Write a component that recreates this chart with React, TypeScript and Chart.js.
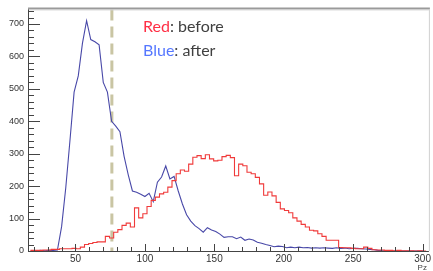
import React, { useEffect, useRef } from 'react';
import { Chart, registerables } from 'chart.js';

Chart.register(...registerables);

// Histogram binning (bin lower edge of first bin, width)
const binStart = 17.5;
const binWidth = 3;

// Red: before (step histogram)
const redCounts = [
  2, 2, 2, 3, 3, 5, 5, 7, 7, 7,
  8, 7, 12, 20, 23, 26, 28, 28, 45, 40,
  58, 66, 79, 86, 74, 133, 102, 115, 137, 156,
  166, 176, 181, 197, 217, 238, 250, 246, 268, 289,
  294, 285, 297, 284, 278, 280, 291, 295, 288, 232,
  268, 263, 243, 238, 227, 207, 172, 182, 170, 150,
  130, 125, 118, 102, 92, 82, 74, 64, 62, 53,
  45, 33, 33, 33, 11, 10, 10, 8, 7, 7,
  12, 8, 4, 3, 3, 2, 2, 1, 2, 1,
  1, 1, 0, 1, 0,
];

// Blue: after (polyline through bin centres)
const blueCounts = [
  1, 1, 2, 1, 2, 2, 3, 75, 195, 340,
  490, 540, 640, 710, 652, 645, 636, 520, 490, 400,
  385, 368, 292, 235, 185, 181, 175, 168, 178, 152,
  212, 228, 262, 222, 230, 185, 145, 112, 92, 78,
  69, 58, 72, 65, 60, 52, 42, 44, 44, 38,
  43, 33, 37, 34, 27, 24, 20, 17, 13, 15,
  14, 10, 12, 10, 12, 10, 11, 9, 10, 9,
  10, 9, 8, 10, 8, 9, 7, 8, 8, 7,
  6, 5, 4, 2, 1, 1, 0, 0, 0, 0,
  0, 0, 0, 0, 0,
];

const xMajorTicks = [50, 100, 150, 200, 250, 300];
const yMajorTicks = [0, 100, 200, 300, 400, 500, 600, 700];
const xMinorStep = 10;
const yMinorStep = 20;
const xMin = 15.8;
const xMax = 304.5;
const yMin = 0;
const yMax = 745;
const cutValue = 76.2;
const axisTitle = 'Pz';
const legendKeys = ['Red', 'Blue'];
const legendRest = [': before', ': after'];
const legendKeyColors = ['#ff2f45', '#5577ff'];

export default function App() {
  const ref = useRef<HTMLCanvasElement | null>(null);

  useEffect(() => {
    if (!ref.current) return;
    const redData = redCounts.map((v, i) => ({ x: binStart + i * binWidth, y: v }));
    redData.push({ x: binStart + redCounts.length * binWidth, y: redCounts[redCounts.length - 1] });
    const blueData = blueCounts.map((v, i) => ({ x: binStart + (i + 0.5) * binWidth, y: v }));

    const decor = {
      id: 'decor',
      beforeDatasetsDraw(chart: any) {
        const { ctx, chartArea, scales } = chart;
        const x = scales.x.getPixelForValue(cutValue);
        ctx.save();
        ctx.strokeStyle = '#c9c5a3';
        ctx.lineWidth = 3;
        ctx.setLineDash([11, 6]);
        ctx.beginPath();
        ctx.moveTo(x, chartArea.top);
        ctx.lineTo(x, chartArea.bottom);
        ctx.stroke();
        ctx.restore();
      },
      afterDraw(chart: any) {
        const { ctx, chartArea, scales } = chart;
        const xs = scales.x;
        const ys = scales.y;
        ctx.save();
        // frame
        ctx.strokeStyle = '#9a9a9a';
        ctx.lineWidth = 2;
        ctx.beginPath();
        ctx.moveTo(chartArea.left, chartArea.top - 1);
        ctx.lineTo(chartArea.right + 1, chartArea.top - 1);
        ctx.stroke();
        ctx.strokeStyle = '#d0d0d0';
        ctx.lineWidth = 1;
        ctx.beginPath();
        ctx.moveTo(chartArea.left, chartArea.top + 0.5);
        ctx.lineTo(chartArea.right, chartArea.top + 0.5);
        ctx.moveTo(chartArea.right + 0.5, chartArea.top);
        ctx.lineTo(chartArea.right + 0.5, chartArea.bottom);
        ctx.stroke();

        // axis lines
        ctx.strokeStyle = '#444';
        ctx.lineWidth = 1;
        ctx.beginPath();
        ctx.moveTo(chartArea.left + 0.5, chartArea.top);
        ctx.lineTo(chartArea.left + 0.5, chartArea.bottom);
        ctx.moveTo(chartArea.left, chartArea.bottom + 0.5);
        ctx.lineTo(chartArea.right, chartArea.bottom + 0.5);
        ctx.stroke();

        // y ticks (inside)
        ctx.beginPath();
        for (let v = 0; v <= yMax; v += yMinorStep) {
          const py = Math.round(ys.getPixelForValue(v)) + 0.5;
          const len = v % 100 === 0 ? 12 : 6;
          ctx.moveTo(chartArea.left, py);
          ctx.lineTo(chartArea.left + len, py);
        }
        // x ticks (inside)
        for (let v = Math.ceil(xMin / xMinorStep) * xMinorStep; v <= xMax; v += xMinorStep) {
          const px = Math.round(xs.getPixelForValue(v)) + 0.5;
          const len = v % 50 === 0 ? 7 : 4;
          ctx.moveTo(px, chartArea.bottom);
          ctx.lineTo(px, chartArea.bottom - len);
        }
        ctx.stroke();

        // axis title
        ctx.fillStyle = '#444';
        ctx.font = '8px "Liberation Sans", Arial, sans-serif';
        ctx.textAlign = 'right';
        ctx.textBaseline = 'alphabetic';
        ctx.fillText(axisTitle, chartArea.right - 2, 270);

        // legend text
        ctx.font = '16px Lato, sans-serif';
        ctx.textAlign = 'left';
        const lx = 143;
        const baselines = [32, 56];
        legendKeys.forEach((k, i) => {
          ctx.fillStyle = legendKeyColors[i];
          ctx.fillText(k, lx, baselines[i]);
          const w = ctx.measureText(k).width;
          ctx.fillStyle = '#404040';
          ctx.fillText(legendRest[i], lx + w, baselines[i]);
        });
        ctx.restore();
      },
    };

    const chart = new Chart(ref.current, {
      type: 'line',
      data: {
        datasets: [
          {
            label: 'before',
            data: redData,
            borderColor: '#f03a3a',
            borderWidth: 1.1,
            pointRadius: 0,
            stepped: 'before',
            fill: false,
          },
          {
            label: 'after',
            data: blueData,
            borderColor: '#4848a8',
            borderWidth: 1.1,
            pointRadius: 0,
            tension: 0,
            fill: false,
          },
        ],
      },
      options: {
        animation: false,
        responsive: true,
        maintainAspectRatio: false,
        layout: { padding: { top: 8, right: 1, left: 0, bottom: 0 } },
        plugins: { legend: { display: false }, tooltip: { enabled: false } },
        scales: {
          x: {
            type: 'linear',
            min: xMin,
            max: xMax,
            grid: { display: false, drawTicks: false },
            border: { display: false },
            afterBuildTicks: (axis: any) => {
              axis.ticks = xMajorTicks.map((v) => ({ value: v }));
            },
            afterFit: (axis: any) => {
              axis.height = 20;
            },
            ticks: {
              padding: 2,
              maxRotation: 0,
              autoSkip: false,
              color: '#333',
              font: { size: 10, family: '"Liberation Sans", Arial, sans-serif' },
            },
          },
          y: {
            type: 'linear',
            min: yMin,
            max: yMax,
            grid: { display: false, drawTicks: false },
            border: { display: false },
            afterBuildTicks: (axis: any) => {
              axis.ticks = yMajorTicks.map((v) => ({ value: v }));
            },
            afterFit: (axis: any) => {
              axis.width = 28;
            },
            ticks: {
              padding: 4,
              autoSkip: false,
              color: '#333',
              font: { size: 9, family: '"Liberation Sans", Arial, sans-serif' },
            },
          },
        },
      },
      plugins: [decor],
    });
    return () => chart.destroy();
  }, []);

  return (
    <div style={{ position: 'fixed', left: 0, top: 0, width: 433, height: 271, background: '#fff' }}>
      <canvas ref={ref} />
    </div>
  );
}
